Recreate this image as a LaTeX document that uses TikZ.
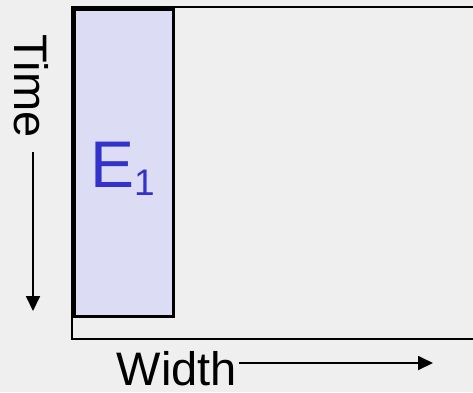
\documentclass[tikz,border=0pt]{standalone}
\usepackage{fontspec}
\setmainfont{Liberation Sans}
\usetikzlibrary{arrows.meta}
\definecolor{bgc}{HTML}{EFEFEF}
\definecolor{lav}{HTML}{DCDCF4}
\definecolor{etext}{HTML}{3333CC}
\tikzset{
  frameline/.style={line width=2pt, black},
  axisarrow/.style={line width=1.8pt, -{Triangle[length=15pt,width=14pt]}},
  labeltext/.style={inner sep=0pt, font=\fontsize{47}{50}\selectfont}
}
\begin{document}
\begin{tikzpicture}[x=1pt,y=-1pt]
\fill[bgc] (0,0) rectangle (473,392);
\useasboundingbox (0,0) rectangle (473,392);
% outer frame (open at right)
\coordinate (fTR) at (474,7);
\coordinate (fTL) at (72,7);
\coordinate (fBL) at (72,339);
\coordinate (fBR) at (474,339);
\draw[frameline] (fTR) -- (fTL) -- (fBL) -- (fBR);
% E1 block
\node[draw, line width=2.5pt, fill=lav, rectangle, inner sep=0pt, minimum width=99pt, minimum height=307pt, anchor=north west] (e1) at (73,8) {};
\node[inner sep=0pt, anchor=base west, text=etext] (e1lbl) at (90,187) {\fontsize{66}{70}\selectfont E\raisebox{-8pt}{\fontsize{37}{40}\selectfont 1}};
% Time axis
\node[labeltext, rotate=-90] (time) at (31,86) {Time};
\coordinate (tS) at (33,152);
\coordinate (tE) at (33,311);
\draw[axisarrow] (tS) -- (tE);
% Width axis
\node[labeltext] (width) at (177,369) {Width};
\coordinate (wS) at (239,363);
\coordinate (wE) at (433,363);
\draw[axisarrow] (wS) -- (wE);
\end{tikzpicture}
\end{document}
